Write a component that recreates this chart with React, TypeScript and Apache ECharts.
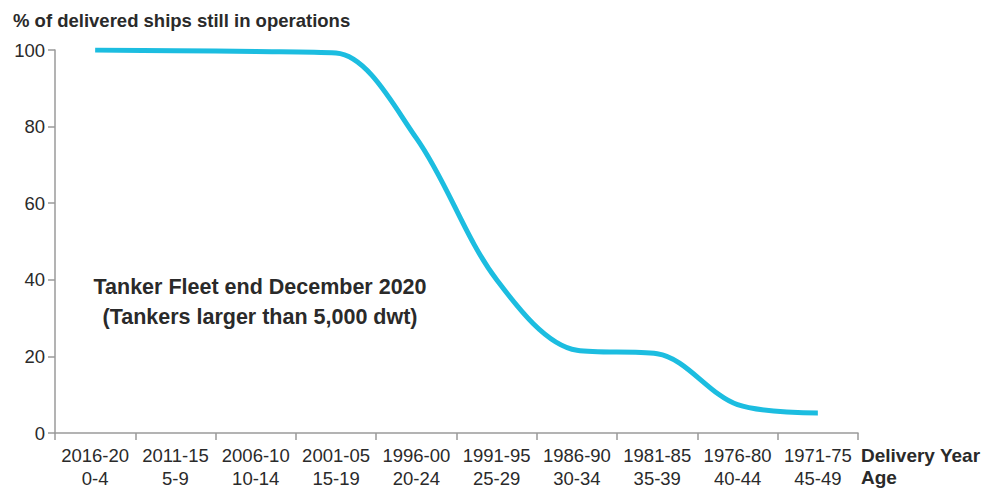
import React, { useEffect, useRef } from "react";
import * as echarts from "echarts";

const deliveryYears = ["2016-20", "2011-15", "2006-10", "2001-05", "1996-00", "1991-95", "1986-90", "1981-85", "1976-80", "1971-75"];
const ages = ["0-4", "5-9", "10-14", "15-19", "20-24", "25-29", "30-34", "35-39", "40-44", "45-49"];
const stillOperating = [100, 99.8, 99.6, 99.2, 77, 40, 21.6, 20.7, 7.4, 5.2];
const yTitle = "% of delivered ships still in operations";
const annotation = "Tanker Fleet end December 2020\n(Tankers larger than 5,000 dwt)";
const xNameTop = "Delivery Year";
const xNameBottom = "Age";

const FONT = "'Liberation Sans', Arial, Helvetica, sans-serif";

export default function App() {
  const ref = useRef<HTMLDivElement>(null);
  useEffect(() => {
    if (!ref.current) return;
    const chart = echarts.init(ref.current, null, { renderer: "svg" });
    const categories = deliveryYears.map((d, i) => `${d}\n${ages[i]}`);
    chart.setOption({
      animation: false,
      textStyle: { fontFamily: FONT },
      grid: { left: 55, right: 123, top: 50, bottom: 55, containLabel: false, outerBoundsMode: "none" },
      xAxis: {
        type: "category",
        data: categories,
        boundaryGap: true,
        axisLine: { lineStyle: { color: "#9a9a9a", width: 1.5 } },
        axisTick: { show: true, length: 7, alignWithLabel: false, lineStyle: { color: "#9a9a9a", width: 1.5 } },
        axisLabel: { color: "#2a2a2a", fontSize: 18.5, lineHeight: 23, margin: 11, interval: 0, fontFamily: FONT },
        splitLine: { show: false },
      },
      yAxis: {
        type: "value",
        min: 0,
        max: 100,
        interval: 20,
        axisLine: { show: true, lineStyle: { color: "#9a9a9a", width: 1.5 } },
        axisTick: { show: true, length: 7, lineStyle: { color: "#9a9a9a", width: 1.5 } },
        axisLabel: { color: "#2a2a2a", fontSize: 18.5, margin: 10, fontFamily: FONT },
        splitLine: { show: false },
      },
      series: [
        {
          type: "line",
          data: stillOperating,
          smooth: 0.33,
          symbol: "none",
          lineStyle: { color: "#1CBDE0", width: 5, cap: "butt", join: "round" },
        },
      ],
      graphic: [
        {
          type: "text",
          left: 13,
          top: 11,
          style: { text: yTitle, font: `bold 18.5px ${FONT}`, fill: "#2a2a2a" },
        },
        {
          type: "text",
          x: 260,
          y: 272,
          style: {
            text: annotation,
            font: `bold 21.5px ${FONT}`,
            fill: "#2a2a2a",
            textAlign: "center",
            textVerticalAlign: "top",
            lineHeight: 30,
          },
        },
        {
          type: "text",
          x: 861,
          y: 455,
          style: {
            text: xNameTop,
            font: `bold 19px ${FONT}`,
            fill: "#2a2a2a",
            textVerticalAlign: "middle",
          },
        },
        {
          type: "text",
          x: 861,
          y: 477,
          style: {
            text: xNameBottom,
            font: `bold 19px ${FONT}`,
            fill: "#2a2a2a",
            textVerticalAlign: "middle",
          },
        },
      ],
    });
    return () => chart.dispose();
  }, []);
  return <div ref={ref} style={{ position: "absolute", left: 0, top: 0, width: 981, height: 488 }} />;
}
